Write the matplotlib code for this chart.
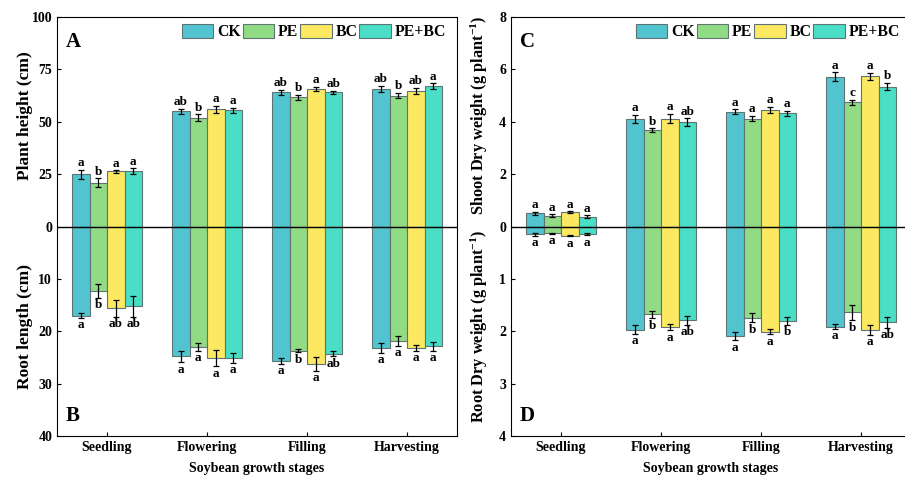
import matplotlib
matplotlib.use("Agg")
import matplotlib.pyplot as plt
import numpy as np

plt.rcParams['font.family'] = ['Liberation Serif', 'DejaVu Serif']
plt.rcParams['font.weight'] = 'bold'
plt.rcParams['mathtext.fontset'] = 'custom'
plt.rcParams['mathtext.rm'] = 'Liberation Serif:bold'
plt.rcParams['mathtext.it'] = 'Liberation Serif:bold'
plt.rcParams['mathtext.bf'] = 'Liberation Serif:bold'

stages = ['Seedling', 'Flowering', 'Filling', 'Harvesting']
treatments = ['CK', 'PE', 'BC', 'PE+BC']
colors = ['#52C4CF', '#92DB85', '#FCE961', '#4ADEC7']

# Panel A: plant height (cm), rows = treatment, cols = stage
height = [[24.9, 55.0, 64.0, 65.5],
          [21.0, 52.0, 61.6, 62.5],
          [26.3, 56.0, 65.7, 64.6],
          [26.3, 55.5, 64.0, 67.1]]
height_err = [[2.0, 1.2, 1.3, 1.5],
              [2.0, 1.5, 1.3, 1.4],
              [0.55, 1.6, 0.9, 1.5],
              [1.4, 1.3, 0.8, 1.3]]
height_sig = [['a', 'ab', 'ab', 'ab'],
              ['b', 'b', 'b', 'b'],
              ['a', 'a', 'a', 'ab'],
              ['a', 'a', 'ab', 'a']]

# Panel B: root length (cm)
root_len = [[17.0, 24.8, 25.7, 23.2],
            [12.3, 23.0, 23.7, 21.9],
            [15.6, 25.1, 26.2, 23.2],
            [15.2, 25.1, 24.3, 22.9]]
root_len_err = [[0.45, 1.1, 0.5, 0.9],
                [1.3, 0.75, 0.3, 0.9],
                [1.65, 1.6, 1.3, 0.5],
                [2.0, 0.95, 0.5, 0.85]]
root_len_sig = [['a', 'a', 'a', 'a'],
                ['b', 'a', 'b', 'a'],
                ['ab', 'a', 'a', 'a'],
                ['ab', 'a', 'ab', 'a']]

# Panel C: shoot dry weight (g plant-1)
shoot_dw = [[0.50, 4.11, 4.39, 5.72],
            [0.42, 3.67, 4.12, 4.74],
            [0.54, 4.12, 4.44, 5.73],
            [0.38, 3.98, 4.32, 5.34]]
shoot_dw_err = [[0.06, 0.15, 0.08, 0.17],
                [0.04, 0.08, 0.10, 0.10],
                [0.04, 0.18, 0.12, 0.13],
                [0.05, 0.15, 0.10, 0.14]]
shoot_dw_sig = [['a', 'a', 'a', 'a'],
                ['a', 'b', 'a', 'c'],
                ['a', 'a', 'a', 'a'],
                ['a', 'ab', 'a', 'b']]

# Panel D: root dry weight (g plant-1)
root_dw = [[0.15, 1.97, 2.09, 1.91],
           [0.13, 1.68, 1.74, 1.64],
           [0.18, 1.92, 2.01, 1.98],
           [0.15, 1.79, 1.80, 1.83]]
root_dw_err = [[0.03, 0.08, 0.08, 0.04],
               [0.01, 0.07, 0.09, 0.15],
               [0.01, 0.06, 0.05, 0.09],
               [0.02, 0.09, 0.08, 0.10]]
root_dw_sig = [['a', 'a', 'a', 'a'],
               ['a', 'b', 'b', 'b'],
               ['a', 'a', 'a', 'a'],
               ['a', 'ab', 'b', 'ab']]


def draw_panel(ax, top, top_err, top_sig, top_max, top_ticks,
               bot, bot_err, bot_sig, bot_max, bot_ticks,
               top_label, bot_label, top_letter, bot_letter, label_size):
    x = np.arange(len(stages))
    w = 0.175
    handles = []
    for i, t in enumerate(treatments):
        xs = x + (i - 1.5) * w
        # upper half scaled to 0..1, lower half to -1..0
        up = np.array(top[i]) / top_max
        up_e = np.array(top_err[i]) / top_max
        dn = -np.array(bot[i]) / bot_max
        dn_e = np.array(bot_err[i]) / bot_max
        b = ax.bar(xs, up, w, color=colors[i], edgecolor='#5f7373', linewidth=0.8, label=t)
        ax.bar(xs, dn, w, color=colors[i], edgecolor='#5f7373', linewidth=0.8)
        ax.errorbar(xs, up, yerr=up_e, fmt='none', ecolor='black', elinewidth=0.9, capsize=2.2, capthick=0.9)
        ax.errorbar(xs, dn, yerr=dn_e, fmt='none', ecolor='black', elinewidth=0.9, capsize=2.2, capthick=0.9)
        handles.append(b)
        for j in range(len(stages)):
            ax.annotate(top_sig[i][j], (xs[j], up[j] + up_e[j]), xytext=(0, 0.5),
                        textcoords='offset points', ha='center', va='bottom',
                        fontsize=9.5, fontweight='bold')
            ax.annotate(bot_sig[i][j], (xs[j], dn[j] - dn_e[j]), xytext=(0, -1),
                        textcoords='offset points', ha='center', va='top',
                        fontsize=9.5, fontweight='bold')
    ax.axhline(0, color='black', linewidth=1)
    ax.set_xlim(-0.5, 3.5)
    ax.set_ylim(-1, 1)
    ticks = [-v / bot_max for v in bot_ticks[::-1]] + [v / top_max for v in top_ticks]
    labels = [str(v) for v in bot_ticks[::-1]] + [str(v) for v in top_ticks]
    ax.set_yticks(ticks)
    ax.set_yticklabels(labels)
    ax.set_xticks(x)
    ax.set_xticklabels(stages)
    ax.tick_params(direction='in', length=3, labelsize=10, width=0.8)
    for lab in ax.get_xticklabels() + ax.get_yticklabels():
        lab.set_fontweight('bold')
    ax.set_xlabel('Soybean growth stages', fontsize=10, fontweight='bold', labelpad=6)
    ax.text(-0.08, 0.765, top_label, transform=ax.transAxes, rotation=90,
            ha='center', va='center', fontsize=label_size, fontweight='bold')
    ax.text(-0.08, 0.262, bot_label, transform=ax.transAxes, rotation=90,
            ha='center', va='center', fontsize=label_size, fontweight='bold')
    ax.text(0.022, 0.965, top_letter, transform=ax.transAxes, ha='left', va='top',
            fontsize=15, fontweight='bold')
    ax.text(0.022, 0.025, bot_letter, transform=ax.transAxes, ha='left', va='bottom',
            fontsize=15, fontweight='bold')
    for s in ax.spines.values():
        s.set_linewidth(0.8)
    ax.legend(handles=handles, loc='upper right', ncol=4, frameon=False,
              bbox_to_anchor=(1.0, 1.01), handlelength=2.0, handleheight=1.05,
              handletextpad=0.25, columnspacing=0.12, borderaxespad=0.3,
              prop={'weight': 'bold', 'size': 11.3})


fig = plt.figure(figsize=(9.05, 4.82), dpi=100)
ax1 = fig.add_axes([57 / 905, 46 / 482, 400 / 905, 419 / 482])
ax2 = fig.add_axes([511 / 905, 46 / 482, 400 / 905, 419 / 482])

draw_panel(ax1, height, height_err, height_sig, 100, [0, 25, 50, 75, 100],
           root_len, root_len_err, root_len_sig, 40, [10, 20, 30, 40],
           'Plant height (cm)', 'Root length (cm)', 'A', 'B', 12.5)
draw_panel(ax2, shoot_dw, shoot_dw_err, shoot_dw_sig, 8, [0, 2, 4, 6, 8],
           root_dw, root_dw_err, root_dw_sig, 4, [1, 2, 3, 4],
           'Shoot Dry weight (g plant$^{-1}$)', 'Root Dry weight (g plant$^{-1}$)', 'C', 'D', 11.8)

fig.savefig('out.png', dpi=100)
